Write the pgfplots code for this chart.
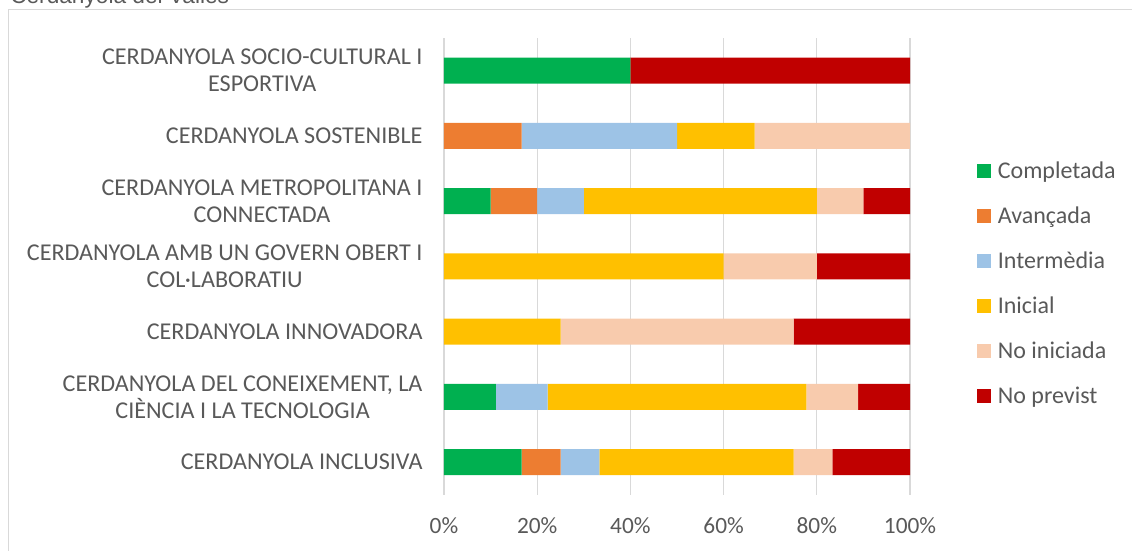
\documentclass[border=0pt]{standalone}
\usepackage{pgfplots}
\pgfplotsset{compat=1.18}
\usepackage{fontspec}
\setmainfont{Carlito}
\newfontfamily\titlefont{Liberation Sans}
\definecolor{cGreen}{HTML}{00B050}
\definecolor{cOrange}{HTML}{ED7D31}
\definecolor{cBlue}{HTML}{9DC3E6}
\definecolor{cGold}{HTML}{FFC000}
\definecolor{cPeach}{HTML}{F8CBAD}
\definecolor{cRed}{HTML}{C00000}
\definecolor{gridgray}{HTML}{D9D9D9}
\definecolor{txtgray}{HTML}{595959}
\begin{document}
\begin{tikzpicture}[x=0.75pt,y=0.75pt]
\useasboundingbox (0,0) rectangle (1132,550);
\draw[color=gridgray, line width=0.9pt] (8.5,540.5) rectangle (1150,-20);
\node[anchor=base west, inner sep=0, font=\titlefont\fontsize{17}{20}\selectfont, text=txtgray] at (10,546) {Cerdanyola del Vallès};
\begin{axis}[
  at={(333pt,41.5pt)}, anchor=south west,
  scale only axis, width=349.5pt, height=342.5pt,
  xbar stacked, bar width=19.5pt,
  xmin=0, xmax=100, ymin=-0.5, ymax=6.5,
  axis line style={draw=none},
  tick style={draw=none}, major tick length=0pt,
  xtick={0,20,40,60,80,100},
  xticklabels={0\%,20\%,40\%,60\%,80\%,100\%},
  xmajorgrids, grid style={gridgray, line width=0.9pt},
  ytick={0,1,2,3,4,5,6},
  yticklabels={{CERDANYOLA INCLUSIVA},{CERDANYOLA DEL CONEIXEMENT, LA\\CIÈNCIA I LA TECNOLOGIA},{CERDANYOLA INNOVADORA},{CERDANYOLA AMB UN GOVERN OBERT I\\COL·LABORATIU},{CERDANYOLA METROPOLITANA I\\CONNECTADA},{CERDANYOLA SOSTENIBLE},{CERDANYOLA SOCIO-CULTURAL I\\ESPORTIVA}},
  yticklabel style={align=center, font=\fontsize{18.1}{20.25}\selectfont, text=txtgray, xshift=-12.6pt},
  xticklabel style={font=\fontsize{17.5}{20.25}\selectfont, text=txtgray, yshift=-14pt},
  legend style={at={(1.135,0.7406)}, anchor=north west, draw=none, fill=none,
    font=\fontsize{18}{20}\selectfont, text=txtgray, row sep=15.75pt,
    /tikz/every odd column/.append style={column sep=3pt}},
  legend cell align=left,
  legend image code/.code={\fill[#1] (0pt,-5.25pt) rectangle (10.5pt,5.25pt);},
]
\addplot[fill=cGreen, draw=none] coordinates {(16.67,0) (11.11,1) (0,2) (0,3) (10,4) (0,5) (40,6)};
\addplot[fill=cOrange, draw=none] coordinates {(8.33,0) (0,1) (0,2) (0,3) (10,4) (16.67,5) (0,6)};
\addplot[fill=cBlue, draw=none] coordinates {(8.33,0) (11.11,1) (0,2) (0,3) (10,4) (33.33,5) (0,6)};
\addplot[fill=cGold, draw=none] coordinates {(41.67,0) (55.56,1) (25,2) (60,3) (50,4) (16.67,5) (0,6)};
\addplot[fill=cPeach, draw=none] coordinates {(8.33,0) (11.11,1) (50,2) (20,3) (10,4) (33.33,5) (0,6)};
\addplot[fill=cRed, draw=none] coordinates {(16.67,0) (11.11,1) (25,2) (20,3) (10,4) (0,5) (60,6)};
\legend{Completada,Avançada,Intermèdia,Inicial,No iniciada,No previst}
\end{axis}
\end{tikzpicture}
\end{document}
